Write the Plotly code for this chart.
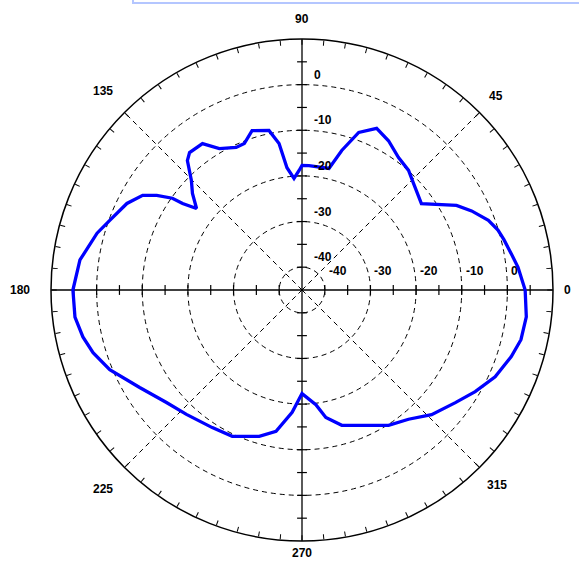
import math
import plotly.graph_objects as go

# Data (angle in degrees, gain in dB)
angle_deg = [0, 6, 10, 14, 17, 20.5, 25, 28.7, 35.9, 43.7, 48.3, 53.9, 59.9, 65.2, 70.2,
             74.1, 77.5, 86.8, 90, 91.4, 94.1, 97, 98.9, 101.7, 107.4, 111.5, 114.8, 120.3,
             124.2, 129.3, 131.5, 135.3, 138.6, 142.3, 144.1, 144.7, 146.9, 149.3, 153.7,
             160.1, 164.5, 172.3, 180, 186.8, 192.1, 196.7, 202.5, 211, 219.7, 227.1, 236.9,
             244.5, 253.7, 259.6, 265.4, 270, 276.9, 280.6, 286.4, 293.8, 302.6, 309.5,
             316.1, 323.7, 329.6, 335.8, 342.3, 347.2, 353.2, 360]
gain_db = [3.9, 2.6, 1.5, 0.6, -0.1, -1.4, -4.0, -6.4, -12.7, -11.2, -9.9, -9.1, -7.2, -6.0,
           -8.3, -13.2, -17.7, -17.7, -17.7, -18.8, -20.5, -18.0, -12.5, -9.3, -8.4, -10.5,
           -10.6, -9.1, -6.2, -6.1, -7.1, -10.9, -13.0, -15.8, -12.7, -10.2, -7.0, -4.4,
           -2.2, -0.2, 1.6, 4.1, 5.2, 5.1, 4.1, 2.8, 0.6, -3.5, -6.4, -7.8, -9.0, -9.5,
           -11.6, -13.5, -18.1, -22.3, -19.7, -16.6, -14.1, -12.6, -9.8, -8.3, -5.6, -3.3,
           -1.0, 1.4, 3.1, 4.2, 4.5, 3.9]

r_min, r_max = -45, 10
ring_vals = [-40, -30, -20, -10, 0]
ring_labels = ["-40", "-30", "-20", "-10", "0"]
minor_r = [-40, -35, -30, -25, -20, -15, -10, -5, 0, 5]
angle_ticks = list(range(0, 360, 5))
angle_label_vals = [0, 45, 90, 135, 180, 225, 270, 315]
angle_label_text = ["0", "45", "90", "135", "180", "225", "270", "315"]
diag_angles = [45, 135, 225, 315]
axis_angles = [0, 90, 180, 270]

# ---- layout geometry (pixels) ----
W, H = 579, 570
M_L, M_R, M_T, M_B = 51, 26, 39, 29
PLOT_W = W - M_L - M_R
PLOT_H = H - M_T - M_B
PLOT_RADIUS_PX = PLOT_W / 2
px_per_db = PLOT_RADIUS_PX / (r_max - r_min)
label_dist_px = [265, 274, 271, 281, 282, 281, 263, 276]   # angular label centre distance
h_label_dx, h_label_dy = 2, 19     # horizontal-axis radial labels: right of ring, above axis
v_label_dx, v_label_dy = 10, 10    # vertical-axis radial labels: right of axis, above ring

FONT = dict(family="Arial", size=12, color="black")


def paper_xy(px_dx, px_dy):
    """offset from the polar centre in pixels (x right, y up) -> paper coords"""
    return 0.5 + px_dx / PLOT_W, 0.5 + px_dy / PLOT_H


fig = go.Figure()

# dashed diagonal spokes
for a in diag_angles:
    fig.add_trace(go.Scatterpolar(r=[r_min, r_max], theta=[a, a], mode="lines",
                                  line=dict(color="black", width=1, dash="5px,4px"),
                                  hoverinfo="skip", showlegend=False))
# solid cross axes
for a in axis_angles:
    fig.add_trace(go.Scatterpolar(r=[r_min, r_max], theta=[a, a], mode="lines",
                                  line=dict(color="black", width=1.3),
                                  hoverinfo="skip", showlegend=False))
# tick marks along cross axes
for a in axis_angles:
    sym = "line-ns" if a in (0, 180) else "line-ew"
    fig.add_trace(go.Scatterpolar(r=minor_r, theta=[a] * len(minor_r), mode="markers",
                                  marker=dict(symbol=sym, size=7,
                                              line=dict(color="black", width=1.2)),
                                  hoverinfo="skip", showlegend=False))

# pattern curve
fig.add_trace(go.Scatterpolar(r=gain_db, theta=angle_deg, mode="lines",
                              line=dict(color="#0000ff", width=3.3),
                              hoverinfo="skip", showlegend=False))

annotations = []
# angular labels outside the rim
for ang, txt, d in zip(angle_label_vals, angle_label_text, label_dist_px):
    fx, fy = paper_xy(d * math.cos(math.radians(ang)), d * math.sin(math.radians(ang)))
    annotations.append(dict(x=fx, y=fy, xref="paper", yref="paper", text="<b>%s</b>" % txt,
                            showarrow=False, font=FONT, xanchor="center", yanchor="middle"))
# radial labels along both axes
for v, txt in zip(ring_vals, ring_labels):
    rp = (v - r_min) * px_per_db
    fx, fy = paper_xy(rp + h_label_dx, h_label_dy)
    annotations.append(dict(x=fx, y=fy, xref="paper", yref="paper", text="<b>%s</b>" % txt,
                            showarrow=False, font=FONT, xanchor="left", yanchor="middle"))
    fx, fy = paper_xy(v_label_dx, rp + v_label_dy)
    annotations.append(dict(x=fx, y=fy, xref="paper", yref="paper", text="<b>%s</b>" % txt,
                            showarrow=False, font=FONT, xanchor="left", yanchor="middle"))

fig.update_layout(
    width=W, height=H,
    margin=dict(l=M_L, r=M_R, t=M_T, b=M_B),
    paper_bgcolor="white",
    showlegend=False,
    annotations=annotations,
    polar=dict(
        bgcolor="white",
        radialaxis=dict(range=[r_min, r_max], tickvals=ring_vals, showticklabels=False,
                        ticks="", showline=False, showgrid=True, gridcolor="black",
                        gridwidth=1, griddash="5px,4px", angle=0),
        angularaxis=dict(tickvals=angle_ticks, showticklabels=False, ticks="inside",
                         ticklen=5, tickcolor="black", tickwidth=1, showgrid=False,
                         showline=True, linecolor="black", linewidth=1.5,
                         rotation=0, direction="counterclockwise"),
    ),
    shapes=[dict(type="rect", xref="paper", yref="paper",
                 x0=(133 - M_L) / PLOT_W, x1=1.2, y0=(H - M_B - 3) / PLOT_H, y1=1.3,
                 line=dict(color="#b4c6ff", width=2), fillcolor="rgba(0,0,0,0)")],
)

fig.write_html("out.html", config={"displayModeBar": False},
               post_script="document.body.style.margin='0';document.body.style.overflow='hidden';")
